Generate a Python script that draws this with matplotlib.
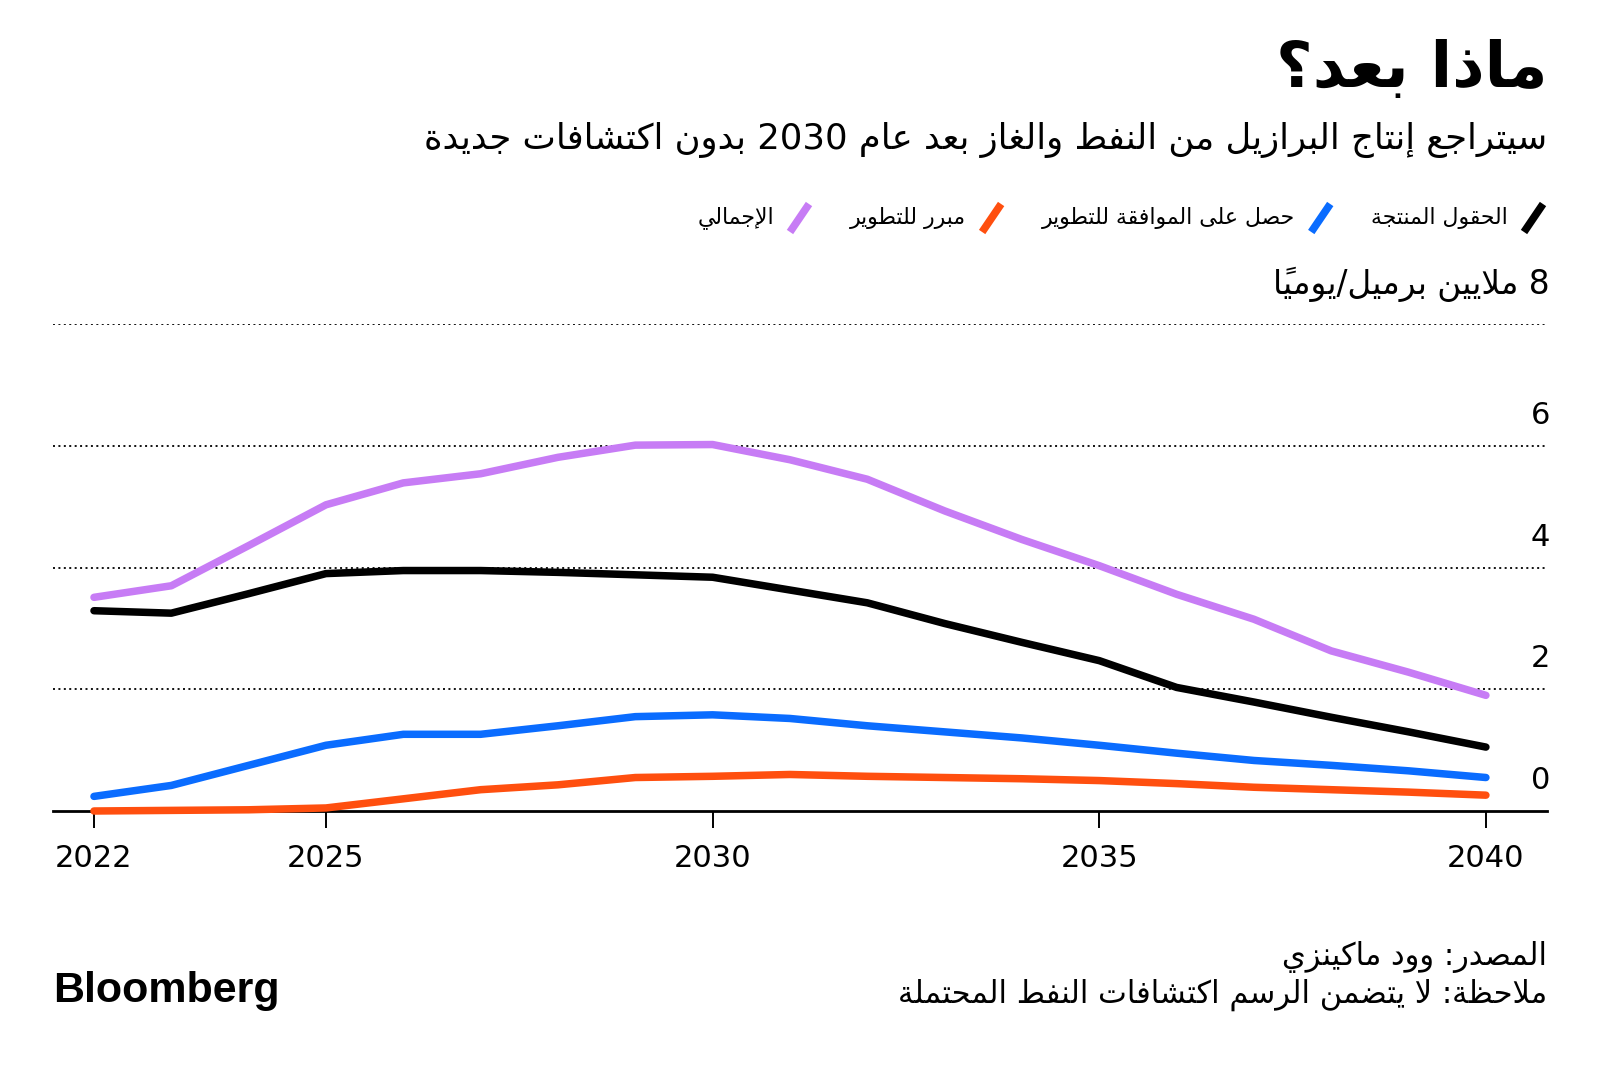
import matplotlib
matplotlib.use("Agg")
import matplotlib.pyplot as plt
from matplotlib.lines import Line2D

# production, million barrels per day
years = list(range(2022, 2041))
producing = [3.29, 3.25, 3.57, 3.90, 3.95, 3.95, 3.92, 3.88, 3.84, 3.63, 3.42,
             3.08, 2.77, 2.47, 2.03, 1.79, 1.54, 1.30, 1.05]
approved = [0.24, 0.42, 0.75, 1.08, 1.26, 1.26, 1.40, 1.55, 1.58, 1.52, 1.40,
            1.30, 1.20, 1.08, 0.95, 0.83, 0.75, 0.66, 0.55]
justified = [0.0, 0.01, 0.02, 0.05, 0.20, 0.35, 0.43, 0.55, 0.57, 0.60, 0.57,
             0.55, 0.53, 0.50, 0.45, 0.39, 0.35, 0.31, 0.26]
total = [3.51, 3.70, 4.36, 5.03, 5.39, 5.54, 5.81, 6.01, 6.02, 5.77, 5.45,
         4.93, 4.46, 4.03, 3.56, 3.15, 2.63, 2.28, 1.90]

names = ["الحقول المنتجة", "حصل على الموافقة للتطوير", "مبرر للتطوير", "الإجمالي"]
colors = ["#000000", "#0A6CFF", "#FF4F0F", "#C77CF5"]
xticks = [2022, 2025, 2030, 2035, 2040]
yticks = [0, 2, 4, 6, 8]

title = "ماذا بعد؟"
subtitle = "سيتراجع إنتاج البرازيل من النفط والغاز بعد عام 2030 بدون اكتشافات جديدة"
unit = "ملايين برميل/يومياً"
source = "المصدر: وود ماكينزي"
note = "ملاحظة: لا يتضمن الرسم اكتشافات النفط المحتملة"

# --- minimal Arabic shaping + RTL ordering (matplotlib does neither) ---
DUAL = {'ئ': 0xFE89, 'ب': 0xFE8F, 'ت': 0xFE95, 'ث': 0xFE99, 'ج': 0xFE9D,
        'ح': 0xFEA1, 'خ': 0xFEA5, 'س': 0xFEB1, 'ش': 0xFEB5, 'ص': 0xFEB9,
        'ض': 0xFEBD, 'ط': 0xFEC1, 'ظ': 0xFEC5, 'ع': 0xFEC9, 'غ': 0xFECD,
        'ف': 0xFED1, 'ق': 0xFED5, 'ك': 0xFED9, 'ل': 0xFEDD, 'م': 0xFEE1,
        'ن': 0xFEE5, 'ه': 0xFEE9, 'ي': 0xFEF1}
RIGHT = {'آ': 0xFE81, 'أ': 0xFE83, 'ؤ': 0xFE85, 'إ': 0xFE87, 'ا': 0xFE8D,
         'ة': 0xFE93, 'د': 0xFEA9, 'ذ': 0xFEAB, 'ر': 0xFEAD, 'ز': 0xFEAF,
         'و': 0xFEED, 'ى': 0xFEEF}
LAMALEF = {'آ': 0xFEF5, 'أ': 0xFEF7, 'إ': 0xFEF9, 'ا': 0xFEFB}


def is_mark(c):
    return 0x064B <= ord(c) <= 0x065F or ord(c) == 0x0670


def ar(text):
    units = []
    i = 0
    while i < len(text):
        c = text[i]
        if c == 'ل' and i + 1 < len(text) and text[i + 1] in LAMALEF:
            units.append(('L', LAMALEF[text[i + 1]]))
            i += 2
            continue
        if c in DUAL:
            units.append(('D', DUAL[c]))
        elif c in RIGHT:
            units.append(('R', RIGHT[c]))
        elif is_mark(c):
            units.append(('T', c))
        else:
            units.append(('U', c))
        i += 1

    def neighbour(j, step):
        j += step
        while 0 <= j < len(units) and units[j][0] == 'T':
            j += step
        return units[j][0] if 0 <= j < len(units) else 'U'

    glyphs = []
    for j, (kind, val) in enumerate(units):
        if kind in 'DRL':
            prev = neighbour(j, -1) == 'D'
            nxt = kind == 'D' and neighbour(j, 1) in 'DRL'
            if kind == 'D':
                off = 3 if (prev and nxt) else 1 if prev else 2 if nxt else 0
            else:
                off = 1 if prev else 0
            glyphs.append(chr(val + off))
        else:
            glyphs.append(val)

    clusters = []
    for g in glyphs:
        if clusters and is_mark(g):
            clusters[-1] += g
        elif clusters and g.isdigit() and clusters[-1][-1].isdigit():
            clusters[-1] += g
        else:
            clusters.append(g)
    return "".join(reversed(clusters))


W, H = 1600, 1069
fig = plt.figure(figsize=(W / 100, H / 100), dpi=100)
fig.patch.set_facecolor("white")


def fx(px):
    return px / W


def fy(py):
    return 1 - py / H


ax = fig.add_axes([fx(53), fy(811), (1547 - 53) / W, (811 - 324) / H])
ax.set_xlim(2021.47, 2040.79)
ax.set_ylim(0, 8)

for v in yticks[1:]:
    ax.axhline(v, color="black", lw=1.3, ls=(0, (1.1, 1.9)), zorder=1)

for vals, c in zip([producing, approved, justified, total], colors):
    ax.plot(years, vals, color=c, lw=5.4, solid_capstyle="round",
            solid_joinstyle="round", clip_on=False, zorder=3)

for s in ["top", "left", "right"]:
    ax.spines[s].set_visible(False)
ax.spines["bottom"].set_linewidth(2.0)
ax.set_xticks(xticks)
ax.set_xticklabels([str(x) for x in xticks])
ax.tick_params(axis="x", length=12, width=1.4, pad=12, labelsize=22)
ax.set_yticks([])

for v in yticks:
    lab = str(v) if v < 8 else ar("8 " + unit)
    ax.annotate(lab, (1.0, v), xycoords=ax.get_yaxis_transform(),
                xytext=(3, 30 if v == 8 else 22), textcoords="offset pixels",
                ha="right", va="baseline", fontsize=22 if v < 8 else 23.5)

# header
fig.text(fx(1547), fy(70), ar(title), fontsize=45.5, fontweight="bold",
         ha="right", va="center")
fig.text(fx(1547), fy(140), ar(subtitle), fontsize=25.5, ha="right", va="center")

# legend, laid out right to left
renderer = fig.canvas.get_renderer()
right = 1548
yc = 218
for name, c in zip(names, colors):
    fig.add_artist(Line2D([fx(right - 24), fx(right - 5)],
                          [fy(yc + 14), fy(yc - 14)], color=c, lw=5.5,
                          solid_capstyle="butt", transform=fig.transFigure))
    t = fig.text(fx(right - 40), fy(yc), ar(name), fontsize=15.8,
                 ha="right", va="center")
    w = t.get_window_extent(renderer=renderer).width
    right = right - 40 - w - 36

# footer
fig.text(fx(1547), fy(957), ar(source), fontsize=22, ha="right", va="center")
fig.text(fx(1547), fy(995), ar(note), fontsize=22, ha="right", va="center")
fig.text(fx(53), fy(991), "Bloomberg", fontsize=31, fontweight="bold",
         family="Liberation Sans", ha="left", va="center")

fig.savefig("out.png", dpi=100, facecolor="white")
